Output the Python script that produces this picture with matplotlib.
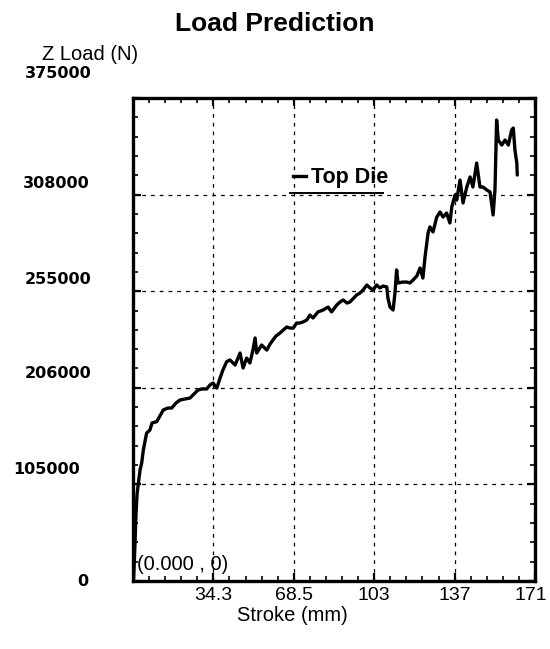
import matplotlib
matplotlib.use("Agg")
import matplotlib.pyplot as plt
from matplotlib.lines import Line2D
from matplotlib.ticker import MultipleLocator
from matplotlib.transforms import ScaledTranslation

# Top die load versus stroke
stroke_mm = [0.2, 0.6, 0.9, 1.3, 1.7, 2.3, 3.0, 3.7, 4.4, 5.8, 7.2, 8.1, 10.1, 12.9,
             14.9, 16.5, 18.3, 20.0, 22.2, 24.3, 26.0, 27.7, 29.4, 31.4, 32.8, 34.1,
             35.7, 37.1, 38.3, 39.9, 41.3, 43.5, 45.6, 46.9, 48.4, 49.8, 51.1, 52.0,
             52.7, 54.8, 57.0, 58.4, 59.6, 60.9, 62.6, 64.0, 65.5, 66.9, 68.3, 69.7,
             71.1, 72.4, 74.0, 75.4, 76.7, 78.8, 81.0, 83.1, 84.6, 86.8, 88.2, 89.5,
             91.2, 92.4, 95.3, 96.7, 98.0, 99.6, 101.0, 102.2, 103.8, 105.2, 106.5,
             108.1, 108.6, 109.5, 110.8, 111.6, 112.3, 112.9, 115.0, 116.6, 118.0,
             119.3, 120.9, 122.3, 123.5, 124.4, 125.7, 126.5, 127.8, 129.4, 130.8,
             132.1, 133.6, 135.0, 135.8, 137.2, 137.9, 139.3, 140.6, 142.2, 143.6,
             144.8, 146.4, 147.8, 149.1, 150.7, 152.1, 153.4, 154.2, 154.9, 155.6,
             157.1, 158.5, 159.9, 161.3, 162.0, 162.7, 163.5, 163.7]
z_load_n = [0, 16300, 31800, 52800, 66800, 76100, 86200, 91600, 101700, 114900,
            117200, 122700, 123700, 132800, 134300, 134300, 138200, 140500, 141300,
            142100, 145200, 148300, 149100, 149100, 152200, 153700, 149800, 157600,
            163800, 170300, 171600, 167700, 177000, 165400, 173100, 169300, 179300,
            188700, 177000, 183200, 179300, 184000, 187100, 190200, 192500, 194900,
            197200, 196400, 196400, 200300, 200300, 201100, 202600, 206500, 204200,
            208900, 210400, 212700, 208900, 214300, 216600, 218200, 215800, 216600,
            222100, 223600, 225900, 229800, 227500, 225900, 229800, 227500, 229000,
            228300, 219700, 212700, 210400, 223600, 241500, 231400, 232100, 232100,
            231400, 233700, 236800, 243000, 235200, 251600, 270200, 274900, 271000,
            282600, 286500, 282600, 285700, 278000, 290400, 299700, 295800, 311300,
            293500, 305900, 313700, 305900, 324500, 305900, 305900, 303600, 302000,
            284200, 303600, 357900, 342400, 338500, 342400, 338500, 350200, 351700,
            334600, 324500, 315200]

x_max = 171.25
y_max = 375000
x_ticks = [34.25, 68.5, 102.75, 137.0, 171.25]
x_tick_labels = ["34.3", "68.5", "103", "137", "171"]
y_ticks = [0, 75000, 150000, 225000, 300000, 375000]
y_tick_labels = ["0", "105000", "206000", "255000", "308000", "375000"]
series_name = "Top Die"
origin_note = "(0.000 , 0)"

SANS = "Liberation Sans"
W, H = 550, 649

fig = plt.figure(figsize=(W / 100, H / 100), dpi=100)
fig.patch.set_facecolor("white")
left, right, top, bottom = 133, 535, 98, 581
ax = fig.add_axes([left / W, 1 - bottom / H, (right - left) / W, (bottom - top) / H])

ax.plot(stroke_mm, z_load_n, color="black", lw=2.4, solid_joinstyle="round",
        solid_capstyle="round", zorder=3)

ax.set_xlim(0, x_max)
ax.set_ylim(0, y_max)

# x axis ticks and labels
ax.set_xticks(x_ticks)
ax.set_xticklabels(x_tick_labels, fontsize=14, family=SANS)
ax.xaxis.set_minor_locator(MultipleLocator(x_max / 25))
ax.set_yticks(y_ticks)
ax.yaxis.set_minor_locator(MultipleLocator(y_max / 25))
ax.tick_params(axis="y", labelleft=False)
ax.tick_params(which="both", direction="in", top=True, right=True, color="black")
ax.tick_params(which="major", length=6, width=1.6)
ax.tick_params(which="minor", length=3.5, width=1.2)
ax.tick_params(axis="x", pad=4)

# nudge the end label so it stays inside the canvas
last_tick = ax.xaxis.get_major_ticks()[-1]
last_tick.label1.set_transform(last_tick.label1.get_transform()
                               + ScaledTranslation(-0.04, 0, fig.dpi_scale_trans))

# y labels drawn beside their tick positions
y_dx = [-45, -53, -41, -41, -43, -41]
y_dy = [-1, 15, 14, 12, 11, 24]
for val, lab, dx, dy in zip(y_ticks, y_tick_labels, y_dx, y_dy):
    tr = ax.get_yaxis_transform() + ScaledTranslation(dx / 100, dy / 100, fig.dpi_scale_trans)
    ax.text(0, val, lab, transform=tr, ha="right", va="center", fontsize=11.5,
            fontweight="bold", family="DejaVu Sans", clip_on=False)

ax.grid(True, which="major", color="black", linestyle=(0, (3, 4)), linewidth=0.9)

for sp in ax.spines.values():
    sp.set_linewidth(2.4)
    sp.set_color("black")

ax.set_xlabel("Stroke (mm)", fontsize=14.5, family=SANS)
ax.xaxis.set_label_coords((292 - left) / (right - left), (bottom - 606) / (bottom - top))
ax.xaxis.label.set_va("top")

fig.text(0.5, 1 - 24 / H, "Load Prediction", ha="center", va="center",
         fontsize=19, fontweight="bold", family=SANS)
fig.text(42 / W, 1 - 60 / H, "Z Load (N)", ha="left", va="baseline",
         fontsize=14.5, family=SANS)

# legend
handle = Line2D([], [], color="black", lw=2.4)
leg = ax.legend([handle], [series_name], loc="center left",
                bbox_to_anchor=((293 - left) / (right - left), (bottom - 178) / (bottom - top)),
                frameon=False, handlelength=0.6, handletextpad=0.25, borderpad=0,
                borderaxespad=0, prop={"family": SANS, "weight": "bold", "size": 15.5})
ax.plot([0.39, 0.622], [0.804, 0.804], transform=ax.transAxes, color="black", lw=1.4)

ax.text(0.01, (bottom - 565) / (bottom - top), origin_note, transform=ax.transAxes,
        ha="left", va="center", fontsize=14.5, family=SANS)

fig.savefig("out.png", dpi=100)
